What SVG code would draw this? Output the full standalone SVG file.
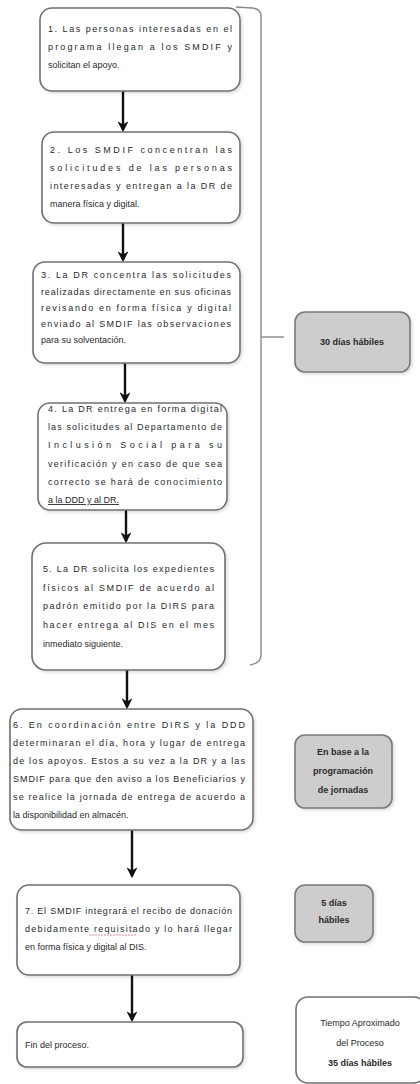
<svg xmlns="http://www.w3.org/2000/svg" width="420" height="1084" viewBox="0 0 420 1084">
<style>
.box{fill:#fff;stroke:#707070;stroke-width:1.6}
.gbox{fill:#cdcdcd;stroke:#7a7a7a;stroke-width:1.6}
.t{font-family:"Liberation Sans",Arial,sans-serif;font-size:9px;fill:#2a2a2a}
.b{font-weight:bold}
.c{text-anchor:middle}
.conn{stroke:#111;stroke-width:2.4;fill:none}
.br{stroke:#8a8a8a;stroke-width:1.4;fill:none}
</style>
<defs>
<marker id="ah" viewBox="0 0 10 10" refX="8" refY="5" markerWidth="4.5" markerHeight="4.5" orient="auto">
<path d="M0,0 L10,5 L0,10 L3,5 z" fill="#111"/>
</marker>
<filter id="sh" x="-10%" y="-10%" width="125%" height="125%">
<feDropShadow dx="1.5" dy="1.5" stdDeviation="1.5" flood-color="#000" flood-opacity="0.15"/>
</filter>
</defs>
<g id="connectors">
<line class="conn" x1="123" y1="91" x2="123" y2="130" marker-end="url(#ah)"/>
<line class="conn" x1="123" y1="223" x2="123" y2="260" marker-end="url(#ah)"/>
<line class="conn" x1="125" y1="363" x2="125" y2="401" marker-end="url(#ah)"/>
<line class="conn" x1="126" y1="510" x2="126" y2="541" marker-end="url(#ah)"/>
<line class="conn" x1="127" y1="670" x2="127" y2="707" marker-end="url(#ah)"/>
<line class="conn" x1="132" y1="830" x2="132" y2="876" marker-end="url(#ah)"/>
<line class="conn" x1="132" y1="975" x2="132" y2="1020" marker-end="url(#ah)"/>
<path class="br" d="M236,7 L252,8 Q261,9 261,16 L261,655 Q261,663 250,665"/>
<line class="br" x1="261" y1="337" x2="284" y2="337" stroke-width="2"/>
</g>
<g id="n1">
<rect class="box" filter="url(#sh)" x="40" y="8" width="200" height="83" rx="12"/>
<text class="t" x="48" y="32" textLength="184" lengthAdjust="spacing">1. Las personas interesadas en el</text>
<text class="t" x="48" y="50" textLength="184" lengthAdjust="spacing">programa llegan a los  SMDIF y</text>
<text class="t" x="48" y="68">solicitan el apoyo.</text>
</g>
<g id="n2">
<rect class="box" filter="url(#sh)" x="42" y="132" width="198" height="91" rx="12"/>
<text class="t" x="50" y="153" textLength="182" lengthAdjust="spacing">2. Los SMDIF concentran las</text>
<text class="t" x="50" y="171" textLength="182" lengthAdjust="spacing">solicitudes de las personas</text>
<text class="t" x="50" y="189" textLength="182" lengthAdjust="spacing">interesadas y entregan a la DR de</text>
<text class="t" x="50" y="207">manera física y digital.</text>
</g>
<g id="n3">
<rect class="box" filter="url(#sh)" x="33" y="262" width="207" height="101" rx="12"/>
<text class="t" x="41" y="278" textLength="190" lengthAdjust="spacing">3. La DR concentra las solicitudes</text>
<text class="t" x="41" y="295" textLength="190" lengthAdjust="spacing">realizadas directamente en sus oficinas</text>
<text class="t" x="41" y="311" textLength="190" lengthAdjust="spacing">revisando en forma física y digital</text>
<text class="t" x="41" y="327" textLength="190" lengthAdjust="spacing">enviado al SMDIF las observaciones</text>
<text class="t" x="41" y="343">para su solventación.</text>
</g>
<g id="n4">
<rect class="box" filter="url(#sh)" x="38" y="403" width="189" height="107" rx="12"/>
<text class="t" x="48" y="412" textLength="174" lengthAdjust="spacing">4. La DR entrega en forma digital</text>
<text class="t" x="48" y="430" textLength="174" lengthAdjust="spacing">las solicitudes al Departamento de</text>
<text class="t" x="48" y="448" textLength="174" lengthAdjust="spacing">Inclusión Social para su</text>
<text class="t" x="48" y="467" textLength="174" lengthAdjust="spacing">verificación y en caso de que sea</text>
<text class="t" x="48" y="485" textLength="174" lengthAdjust="spacing">correcto se hará de conocimiento</text>
<text class="t" x="48" y="503" text-decoration="underline">a la DDD y al DR.</text>
</g>
<g id="n5">
<rect class="box" filter="url(#sh)" x="32" y="543" width="193" height="127" rx="14"/>
<text class="t" x="43" y="572" textLength="171" lengthAdjust="spacing">5. La DR solicita los expedientes</text>
<text class="t" x="43" y="591" textLength="171" lengthAdjust="spacing">físicos al SMDIF de acuerdo al</text>
<text class="t" x="43" y="609" textLength="171" lengthAdjust="spacing">padrón emitido por la DIRS para</text>
<text class="t" x="43" y="628" textLength="171" lengthAdjust="spacing">hacer entrega al DIS en el mes</text>
<text class="t" x="43" y="647">inmediato siguiente.</text>
</g>
<g id="n6">
<rect class="box" filter="url(#sh)" x="10" y="709" width="243" height="121" rx="12"/>
<text class="t" x="13" y="728" textLength="232" lengthAdjust="spacing">6. En coordinación entre DIRS y la DDD</text>
<text class="t" x="13" y="746" textLength="232" lengthAdjust="spacing">determinaran el día, hora y lugar de entrega</text>
<text class="t" x="13" y="764" textLength="232" lengthAdjust="spacing">de los apoyos. Estos a su vez a la DR y a las</text>
<text class="t" x="13" y="782" textLength="232" lengthAdjust="spacing">SMDIF para que den aviso a los Beneficiarios y</text>
<text class="t" x="13" y="800" textLength="232" lengthAdjust="spacing">se realice la jornada de entrega de acuerdo a</text>
<text class="t" x="13" y="818">la disponibilidad en almacén.</text>
</g>
<g id="n7">
<rect class="box" filter="url(#sh)" x="17" y="885" width="223" height="90" rx="12"/>
<text class="t" x="25" y="914" textLength="207" lengthAdjust="spacing">7. El SMDIF integrará el recibo de donación</text>
<text class="t" x="25" y="932" textLength="207" lengthAdjust="spacing">debidamente requisitado y lo hará llegar</text>
<line x1="89" y1="935" x2="136" y2="935" stroke="#d98a9a" stroke-width="1" stroke-dasharray="2,1"/>
<text class="t" x="25" y="950">en forma física y digital al DIS.</text>
</g>
<g id="n8">
<rect class="box" filter="url(#sh)" x="17" y="1022" width="226" height="45" rx="10"/>
<text class="t" x="25" y="1048">Fin del proceso.</text>
</g>
<g id="s1">
<rect class="gbox" filter="url(#sh)" x="295" y="312" width="115" height="60" rx="10"/>
<text class="t b c" x="352" y="345">30 días hábiles</text>
</g>
<g id="s2">
<rect class="gbox" filter="url(#sh)" x="295" y="735" width="97" height="73" rx="10"/>
<text class="t b c" x="343" y="755">En base a la</text>
<text class="t b c" x="343" y="774">programación</text>
<text class="t b c" x="343" y="793">de jornadas</text>
</g>
<g id="s3">
<rect class="gbox" filter="url(#sh)" x="295" y="885" width="78" height="57" rx="10"/>
<text class="t b c" x="334" y="906">5 días</text>
<text class="t b c" x="334" y="923">hábiles</text>
</g>
<g id="s4">
<rect class="box" x="296" y="997" width="130" height="86" rx="12"/>
<text class="t c" x="360" y="1026">Tiempo Aproximado</text>
<text class="t c" x="360" y="1046">del Proceso</text>
<text class="t b c" x="360" y="1066">35 días hábiles</text>
</g>
</svg>
